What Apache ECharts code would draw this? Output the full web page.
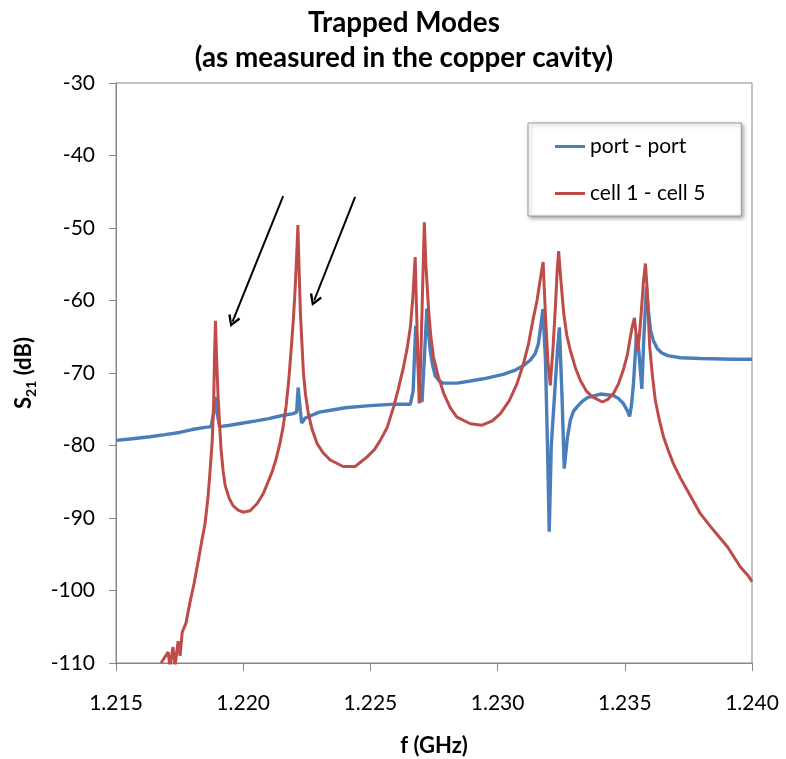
<!DOCTYPE html>
<html>
<head>
<meta charset="utf-8">
<script src="https://cdn.jsdelivr.net/npm/echarts@6/dist/echarts.min.js"></script>
<style>
html,body{margin:0;padding:0;background:#fff;}
#chart{width:786px;height:759px;}
</style>
</head>
<body>
<div id="chart"></div>
<script>
// tick labels
var xTicks = ['1.215', '1.220', '1.225', '1.230', '1.235', '1.240'];
var yTicks = [-30, -40, -50, -60, -70, -80, -90, -100, -110];
var seriesNames = ['port - port', 'cell 1 - cell 5'];

// port - port (blue): frequency (GHz) and S21 (dB)
var freqPort = [1.21500,1.21555,1.21634,1.21693,1.21750,1.21799,1.21850,1.21874,1.21884,1.21891,1.21899,1.21907,1.21948,1.22000,1.22051,1.22100,1.22149,1.22196,1.22210,1.22216,1.22220,1.22224,1.22230,1.22244,1.22299,1.22350,1.22401,1.22499,1.22598,1.22657,1.22668,1.22678,1.22684,1.22696,1.22703,1.22712,1.22722,1.22729,1.22735,1.22745,1.22755,1.22771,1.22786,1.22841,1.22893,1.22944,1.23022,1.23070,1.23101,1.23129,1.23148,1.23160,1.23168,1.23178,1.23188,1.23196,1.23203,1.23211,1.23223,1.23235,1.23243,1.23253,1.23262,1.23274,1.23286,1.23298,1.23314,1.23333,1.23353,1.23404,1.23455,1.23475,1.23494,1.23510,1.23519,1.23526,1.23534,1.23546,1.23555,1.23567,1.23575,1.23585,1.23593,1.23601,1.23613,1.23627,1.23644,1.23668,1.23719,1.23797,1.23927,1.24000];
var dbPort = [-79.3,-79.1,-78.8,-78.5,-78.2,-77.8,-77.5,-77.4,-75.5,-73.3,-75.8,-77.4,-77.2,-76.9,-76.6,-76.3,-75.9,-75.6,-75.4,-72.0,-71.9,-75.0,-76.9,-76.2,-75.4,-75.1,-74.8,-74.5,-74.3,-74.3,-72.5,-63.5,-66.0,-73.5,-74.0,-68.0,-61.1,-64.5,-66.9,-69.0,-70.4,-71.1,-71.4,-71.4,-71.1,-70.8,-70.2,-69.6,-69.0,-68.2,-67.3,-66.0,-64.0,-61.2,-68.0,-80.0,-91.9,-80.0,-73.5,-67.0,-63.7,-73.0,-83.2,-79.0,-76.5,-75.3,-74.6,-73.9,-73.4,-72.9,-73.1,-73.5,-74.2,-75.2,-76.0,-74.5,-71.5,-64.6,-66.9,-72.2,-65.0,-58.1,-61.5,-64.1,-65.6,-66.6,-67.2,-67.6,-67.9,-68.0,-68.1,-68.1];

// cell 1 - cell 5 (red): frequency (GHz) and S21 (dB)
var freqCell = [1.21677,1.21705,1.21712,1.21724,1.21732,1.21744,1.21752,1.21760,1.21775,1.21791,1.21807,1.21824,1.21838,1.21850,1.21862,1.21870,1.21878,1.21884,1.21887,1.21891,1.21895,1.21901,1.21907,1.21913,1.21921,1.21929,1.21945,1.21960,1.21980,1.22000,1.22027,1.22055,1.22078,1.22098,1.22114,1.22129,1.22145,1.22157,1.22169,1.22179,1.22188,1.22197,1.22204,1.22210,1.22215,1.22220,1.22225,1.22231,1.22237,1.22245,1.22256,1.22271,1.22290,1.22314,1.22342,1.22393,1.22440,1.22486,1.22515,1.22539,1.22566,1.22591,1.22609,1.22630,1.22645,1.22657,1.22666,1.22676,1.22682,1.22688,1.22692,1.22698,1.22704,1.22712,1.22718,1.22729,1.22737,1.22748,1.22767,1.22788,1.22814,1.22840,1.22893,1.22939,1.22979,1.23011,1.23046,1.23076,1.23101,1.23122,1.23140,1.23155,1.23168,1.23179,1.23188,1.23198,1.23207,1.23217,1.23227,1.23234,1.23240,1.23247,1.23260,1.23272,1.23286,1.23306,1.23325,1.23349,1.23373,1.23412,1.23435,1.23456,1.23475,1.23494,1.23510,1.23522,1.23530,1.23538,1.23544,1.23551,1.23557,1.23565,1.23573,1.23581,1.23588,1.23598,1.23609,1.23620,1.23636,1.23652,1.23672,1.23691,1.23719,1.23746,1.23797,1.23849,1.23904,1.23955,1.23986,1.24000];
var dbCell = [-110.0,-108.5,-110.5,-107.8,-110.5,-107.0,-109.0,-105.8,-104.5,-101.6,-99.0,-95.8,-93.0,-90.8,-87.0,-83.4,-79.5,-74.0,-68.0,-62.8,-67.5,-73.0,-77.0,-80.5,-83.5,-85.5,-87.3,-88.3,-88.9,-89.2,-89.0,-88.0,-86.7,-85.0,-83.6,-81.9,-79.6,-77.4,-74.5,-71.0,-67.0,-62.7,-58.5,-54.0,-49.6,-56.0,-61.8,-66.0,-70.1,-73.0,-75.6,-77.8,-79.7,-81.0,-82.0,-82.9,-82.9,-81.6,-80.6,-79.3,-77.5,-74.7,-72.3,-69.2,-66.5,-63.7,-60.0,-54.0,-62.0,-70.0,-74.2,-68.0,-60.0,-49.2,-55.0,-61.4,-64.8,-67.8,-70.5,-72.8,-74.8,-76.1,-77.0,-77.2,-76.6,-75.6,-73.8,-71.5,-68.8,-65.9,-62.5,-60.0,-57.0,-54.7,-62.0,-68.5,-71.7,-67.0,-61.0,-56.0,-53.2,-56.5,-61.8,-64.8,-66.9,-69.3,-71.0,-72.5,-73.3,-74.0,-73.6,-72.8,-71.5,-69.6,-67.5,-65.0,-63.5,-62.4,-64.5,-66.9,-65.0,-61.5,-57.5,-54.9,-58.5,-66.4,-70.5,-73.8,-76.5,-78.8,-80.8,-82.5,-84.5,-86.2,-89.4,-91.7,-94.0,-96.8,-98.0,-98.8];

// annotation arrows (start / end, data coordinates)
var arrow1 = [[1.22157, -45.6], [1.21958, -62.9]];
var arrow2 = [[1.22440, -45.7], [1.22279, -60.0]];

function pairs(xs, ys) { return xs.map(function (x, i) { return [x, ys[i]]; }); }

var FONT = 'Lato, "Open Sans", sans-serif';
var chart = echarts.init(document.getElementById('chart'));
var chevron = 'path://M5,0 L10,9 L8.4,10 L5,3.6 L1.6,10 L0,9 Z';

chart.setOption({
  animation: false,
  backgroundColor: '#fff',
  title: {
    text: 'Trapped Modes\n(as measured in the copper cavity)',
    left: 404,
    textAlign: 'center',
    top: 6,
    padding: 0,
    textStyle: { fontFamily: FONT, fontSize: 27.8, fontWeight: 'bold', color: '#000', lineHeight: 35 }
  },
  grid: {
    left: 116, right: 34, top: 83, bottom: 96,
    containLabel: false,
    outerBoundsMode: 'none',
    show: true, borderColor: '#868686', borderWidth: 1, backgroundColor: '#fff'
  },
  legend: {
    orient: 'vertical',
    left: 528, top: 123,
    padding: [13, 36, 12, 27],
    itemGap: 26,
    itemWidth: 30, itemHeight: 3,
    icon: 'rect',
    backgroundColor: '#fff',
    borderColor: '#9a9a9a', borderWidth: 1,
    shadowBlur: 4, shadowColor: 'rgba(0,0,0,0.35)', shadowOffsetX: 2, shadowOffsetY: 2,
    textStyle: { fontFamily: FONT, fontSize: 21, color: '#000' },
    data: seriesNames
  },
  xAxis: {
    type: 'value',
    min: 1.215, max: 1.240, interval: 0.005,
    name: 'f (GHz)',
    nameLocation: 'middle', nameGap: 72,
    nameTextStyle: { fontFamily: FONT, fontSize: 22, fontWeight: 'bold', color: '#000' },
    axisLine: { show: true, lineStyle: { color: '#868686', width: 1 } },
    axisTick: { show: true, length: 8, inside: false, lineStyle: { color: '#868686' } },
    axisLabel: {
      margin: 30, fontFamily: FONT, fontSize: 21, color: '#000',
      formatter: function (v) {
        var s = v.toFixed(3);
        return xTicks.indexOf(s) >= 0 ? s : '';
      }
    },
    splitLine: { show: false }
  },
  yAxis: {
    type: 'value',
    min: -110, max: -30, interval: 10,
    name: '{a|S}{b|21}{a| (dB)}',
    nameLocation: 'middle', nameGap: 78, nameRotate: 90,
    nameTextStyle: {
      rich: {
        a: { fontFamily: FONT, fontSize: 22, fontWeight: 'bold', color: '#000', lineHeight: 28, verticalAlign: 'middle' },
        b: { fontFamily: FONT, fontSize: 14, fontWeight: 'bold', color: '#000', lineHeight: 14, verticalAlign: 'bottom', padding: [10, 0, 0, 0] }
      }
    },
    axisLine: { show: true, lineStyle: { color: '#868686', width: 1 } },
    axisTick: { show: true, length: 7, inside: false, lineStyle: { color: '#868686' } },
    axisLabel: {
      margin: 21, fontFamily: FONT, fontSize: 21, color: '#000',
      formatter: function (v) { return yTicks.indexOf(v) >= 0 ? String(v) : ''; }
    },
    splitLine: { show: false }
  },
  series: [
    {
      name: seriesNames[0], type: 'line', showSymbol: false, symbol: 'none',
      data: pairs(freqPort, dbPort),
      lineStyle: { color: '#4A7EBB', width: 3.4 },
      itemStyle: { color: '#4A7EBB' },
      clip: true, z: 2
    },
    {
      name: seriesNames[1], type: 'line', showSymbol: false, symbol: 'none',
      data: pairs(freqCell, dbCell),
      lineStyle: { color: '#BE4B48', width: 3 },
      itemStyle: { color: '#BE4B48' },
      clip: true, z: 3,
      markLine: {
        silent: true,
        animation: false,
        symbol: ['none', chevron],
        symbolSize: [13, 12],
        label: { show: false },
        lineStyle: { color: '#000', width: 2, type: 'solid' },
        emphasis: { disabled: true },
        data: [
          [{ coord: arrow1[0] }, { coord: arrow1[1] }],
          [{ coord: arrow2[0] }, { coord: arrow2[1] }]
        ]
      }
    }
  ]
});
</script>
</body>
</html>
